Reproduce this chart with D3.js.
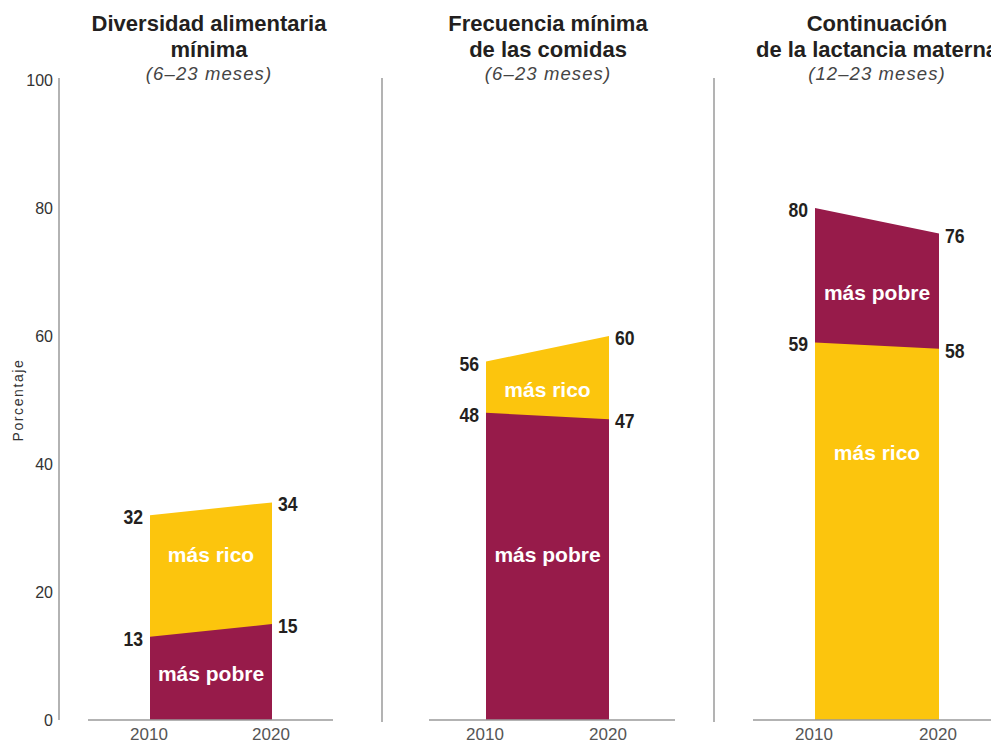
<!DOCTYPE html>
<html>
<head>
<meta charset="utf-8">
<script src="https://cdn.jsdelivr.net/npm/d3@7"></script>
<style>
  body { margin: 0; background: #fff; }
  svg { display: block; font-family: "Liberation Sans", Arial, sans-serif; }
  .title { font-weight: bold; font-size: 22px; fill: #231f20; }
  .sub { font-style: italic; font-size: 18.5px; fill: #444; letter-spacing: 1.1px; }
  .tick { font-size: 16px; fill: #333; }
  .year { font-size: 17px; fill: #555; }
  .val { font-weight: bold; font-size: 20px; fill: #231f20; }
  .band { font-weight: bold; font-size: 21px; fill: #fff; }
</style>
</head>
<body>
<div id="container"></div>
<script>
// data
const years = [2010, 2020];
const titles = [
  ["Diversidad alimentaria", "mínima"],
  ["Frecuencia mínima", "de las comidas"],
  ["Continuación", "de la lactancia materna"]
];
const ageRanges = ["(6–23 meses)", "(6–23 meses)", "(12–23 meses)"];
const poorest = [[13, 15], [48, 47], [80, 76]];
const richest = [[32, 34], [56, 60], [59, 58]];
const yTicks = [0, 20, 40, 60, 80, 100];
const bandNames = { poor: "más pobre", rich: "más rico" };

const width = 991, height = 744;
const colors = { poor: "#971b4a", rich: "#fcc50d" };

// panel layout (pixels), band label anchors in % units
const panels = [
  { bar: [150, 272], base: [88, 333], cx: 209, line: 59, labels: { poor: 7.3, rich: 25.8 } },
  { bar: [486, 609], base: [429, 675], cx: 548, line: 382, labels: { poor: 25.8, rich: 51.6 } },
  { bar: [815, 939], base: [753, 1000], cx: 877, line: 714, labels: { poor: 66.7, rich: 41.7 } }
];

const svg = d3.select('#container')
  .append('svg')
  .attr('width', width)
  .attr('height', height);

const y = d3.scaleLinear().domain([0, 100]).range([720, 80]);

// y axis labels
svg.append('g')
  .selectAll('text')
  .data(yTicks)
  .join('text')
  .attr('class', 'tick')
  .attr('x', 53)
  .attr('y', d => y(d))
  .attr('dy', '0.35em')
  .attr('text-anchor', 'end')
  .text(d => d);

svg.append('text')
  .attr('transform', 'translate(23,400) rotate(-90)')
  .attr('text-anchor', 'middle')
  .style('font-size', '14px')
  .style('letter-spacing', '1.6px')
  .style('fill', '#333')
  .text('Porcentaje');

panels.forEach((p, i) => {
  const g = svg.append('g');
  const x = d3.scaleLinear().domain(years).range(p.bar);

  // vertical axis / separator
  g.append('line')
    .attr('x1', p.line).attr('x2', p.line)
    .attr('y1', y(100) - 2).attr('y2', i === 0 ? y(0) : y(0) + 2)
    .attr('stroke', '#9a9a9a')
    .attr('stroke-width', 1.5);

  // title
  const t = g.append('text').attr('class', 'title').attr('text-anchor', 'middle');
  titles[i].forEach((line, k) => {
    t.append('tspan').attr('x', p.cx).attr('y', 31 + k * 26).text(line);
  });
  g.append('text')
    .attr('class', 'sub')
    .attr('x', p.cx)
    .attr('y', 80)
    .attr('text-anchor', 'middle')
    .text(ageRanges[i]);

  const pts = years.map((yr, j) => ({ year: yr, poor: poorest[i][j], rich: richest[i][j] }));
  const hiKey = pts[0].poor > pts[0].rich ? 'poor' : 'rich';
  const loKey = hiKey === 'poor' ? 'rich' : 'poor';

  const area = key => d3.area()
    .x(d => x(d.year))
    .y0(y(0))
    .y1(d => y(d[key]));

  g.append('path').datum(pts).attr('fill', colors[hiKey]).attr('d', area(hiKey));
  g.append('path').datum(pts).attr('fill', colors[loKey]).attr('d', area(loKey));

  // baseline
  g.append('line')
    .attr('x1', p.base[0]).attr('x2', p.base[1])
    .attr('y1', y(0)).attr('y2', y(0))
    .attr('stroke', '#9a9a9a')
    .attr('stroke-width', 1.5);

  // year labels
  g.selectAll('.year')
    .data(years)
    .join('text')
    .attr('class', 'year')
    .attr('x', d => x(d) - 1)
    .attr('y', 740)
    .attr('text-anchor', 'middle')
    .text(d => d);

  // value labels (condensed look via horizontal scale)
  ['poor', 'rich'].forEach(key => {
    pts.forEach((d, j) => {
      const tx = j === 0 ? x(d.year) - 7 : x(d.year) + 6;
      g.append('text')
        .attr('class', 'val')
        .attr('transform', `translate(${tx},${y(d[key]) + 2}) scale(0.88,1)`)
        .attr('dy', '0.35em')
        .attr('text-anchor', j === 0 ? 'end' : 'start')
        .text(d[key]);
    });
    g.append('text')
      .attr('class', 'band')
      .attr('x', (p.bar[0] + p.bar[1]) / 2)
      .attr('y', y(p.labels[key]))
      .attr('dy', '0.35em')
      .attr('text-anchor', 'middle')
      .text(bandNames[key]);
  });
});
</script>
</body>
</html>
